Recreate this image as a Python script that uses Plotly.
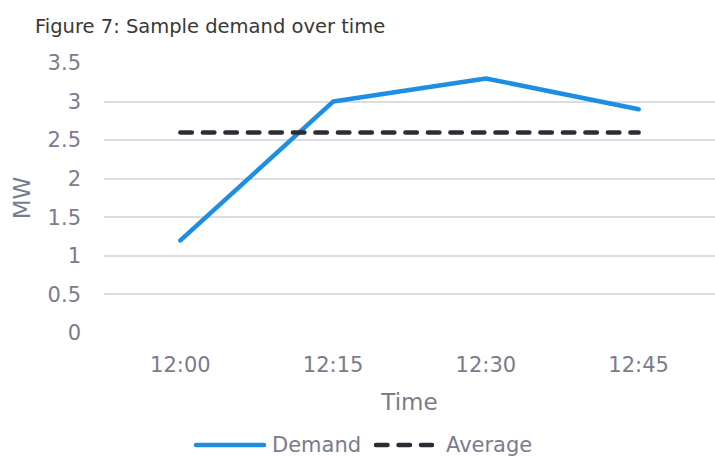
import plotly.graph_objects as go

times = ["12:00", "12:15", "12:30", "12:45"]
demand = [1.2, 3.0, 3.3, 2.9]
average = [2.6, 2.6, 2.6, 2.6]
y_ticks = [0, 0.5, 1, 1.5, 2, 2.5, 3, 3.5]
y_tick_text = ["0", "0.5", "1", "1.5", "2", "2.5", "3", "3.5"]

FONT = "DejaVu Sans"
TICK_COLOR = "#7b7b8e"
DEMAND_COLOR = "#1e8ee2"
AVERAGE_COLOR = "#2c2c34"
AVG_DASH = "11.5px,11px"

W, H = 715, 457
M_L, M_R, M_T, M_B = 104, 0, 63, 124
PW, PH = W - M_L - M_R, H - M_T - M_B


def px_x(x):
    return (x - M_L) / PW


def px_y(y):
    return (H - M_B - y) / PH


fig = go.Figure()
fig.add_trace(go.Scatter(
    x=times, y=demand, name="Demand", mode="lines",
    line=dict(color=DEMAND_COLOR, width=4.5),
))
fig.add_trace(go.Scatter(
    x=times, y=average, name="Average", mode="lines",
    line=dict(color=AVERAGE_COLOR, width=4.5, dash=AVG_DASH),
))

# Legend drawn below the axis title with long key lines
ly = px_y(445)
fig.add_shape(type="line", xref="paper", yref="paper",
              x0=px_x(196), x1=px_x(264), y0=ly, y1=ly,
              line=dict(color=DEMAND_COLOR, width=4.5))
fig.add_shape(type="line", xref="paper", yref="paper",
              x0=px_x(376), x1=px_x(432), y0=ly, y1=ly,
              line=dict(color=AVERAGE_COLOR, width=4.5, dash=AVG_DASH))
fig.add_annotation(text="Demand", xref="paper", yref="paper",
                   x=px_x(270), y=ly, xanchor="left", yanchor="middle",
                   showarrow=False, font=dict(size=21, color=TICK_COLOR))
fig.add_annotation(text="Average", xref="paper", yref="paper",
                   x=px_x(444), y=ly, xanchor="left", yanchor="middle",
                   showarrow=False, font=dict(size=21, color=TICK_COLOR))

fig.update_layout(
    width=W, height=H,
    margin=dict(l=M_L, r=M_R, t=M_T, b=M_B, autoexpand=False),
    paper_bgcolor="white", plot_bgcolor="white",
    font=dict(family=FONT, color=TICK_COLOR, size=20),
    showlegend=False,
    title=dict(
        text="Figure 7: Sample demand over time",
        font=dict(family=FONT, size=19.5, color="#383838"),
        xref="container", x=35 / W, xanchor="left",
        yref="container", y=1 - 26 / H, yanchor="middle",
    ),
    xaxis=dict(
        type="category", range=[-0.5, 3.5], automargin=False,
        showgrid=False, zeroline=False, showline=False,
        ticks="", ticklabelstandoff=17,
        tickfont=dict(size=21, color=TICK_COLOR),
        title=dict(text="Time", font=dict(size=23, color=TICK_COLOR), standoff=17),
    ),
    yaxis=dict(
        range=[0, 3.5], tickvals=y_ticks, ticktext=y_tick_text, automargin=False,
        showgrid=True, gridcolor="#dcdce3", gridwidth=1.5,
        zeroline=False, showline=False, ticks="", ticklabelstandoff=22,
        tickfont=dict(size=21, color=TICK_COLOR),
        title=dict(text="MW", font=dict(size=23, color=TICK_COLOR), standoff=10),
    ),
)

# Rounded line ends and joins for the series and legend keys
round_caps = """
var gd = document.getElementById('{plot_id}');
function roundLines() {
  gd.querySelectorAll('.scatterlayer path.js-line, .shapelayer path').forEach(function (p) {
    p.style.strokeLinecap = 'round';
    p.style.strokeLinejoin = 'round';
  });
}
roundLines();
setTimeout(roundLines, 0);
gd.on('plotly_afterplot', roundLines);
"""

fig.write_html("out.html", post_script=round_caps)
